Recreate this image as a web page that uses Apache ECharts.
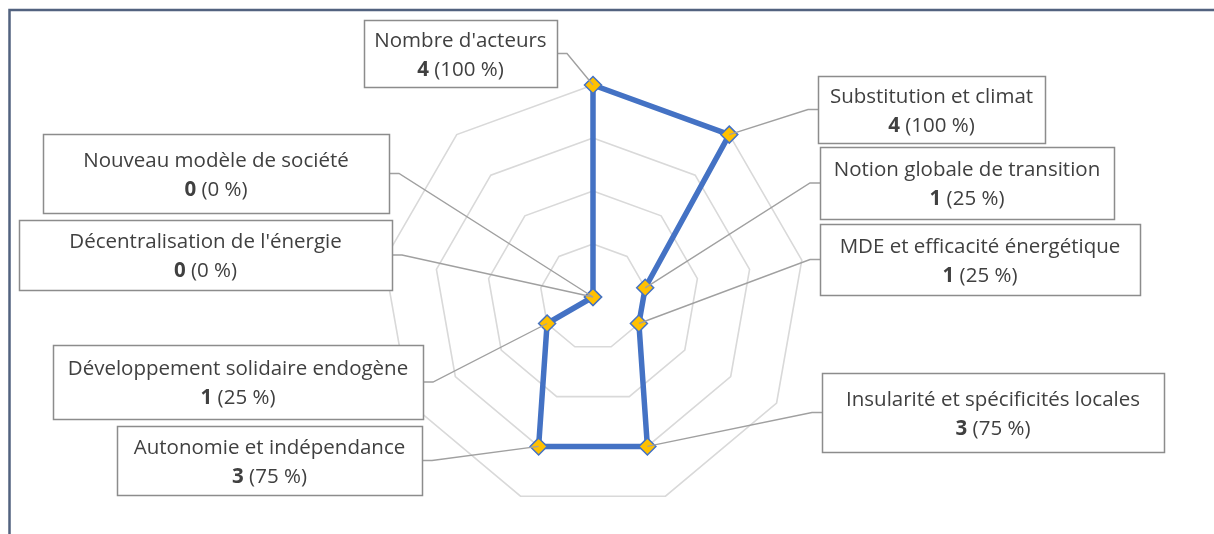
<!DOCTYPE html>
<html>
<head>
<meta charset="utf-8">
<script src="https://cdn.jsdelivr.net/npm/echarts@6/dist/echarts.min.js"></script>
<style>
  html, body { margin: 0; padding: 0; background: #fff; }
  #chart { width: 1214px; height: 534px; }
</style>
</head>
<body>
<div id="chart"></div>
<script>
// catégories dans l'ordre d'Excel (sens horaire depuis le haut)
const categories = [
  "Nombre d'acteurs",
  'Substitution et climat',
  'Notion globale de transition',
  'MDE et efficacité énergétique',
  'Insularité et spécificités locales',
  'Autonomie et indépendance',
  'Développement solidaire endogène',
  "Décentralisation de l'énergie",
  'Nouveau modèle de société'
]
const counts = [4, 4, 1, 1, 3, 3, 1, 0, 0]
const percents = [100, 100, 25, 25, 75, 75, 25, 0, 0]
const maxValue = 4

// position des étiquettes (boîtes) : [x, y, largeur, hauteur, côté du trait]
const boxes = [
  [364, 20, 193, 67, 'right'],
  [818, 76, 227, 67, 'left'],
  [820, 147, 294, 72, 'left'],
  [820, 224, 320, 71, 'left'],
  [822, 373, 342, 79, 'left'],
  [117, 426, 305, 69, 'right'],
  [53, 345, 370, 74, 'right'],
  [19, 220, 373, 70, 'right'],
  [43, 134, 346, 79, 'right']
]

const FONT = '"Open Sans", "Noto Sans", sans-serif'
const chart = echarts.init(document.getElementById('chart'))

// ECharts tourne dans le sens anti-horaire : on réordonne pour garder l'ordre Excel
const order = [0, 8, 7, 6, 5, 4, 3, 2, 1]

const option = {
  animation: false,
  radar: {
    center: [593, 297],
    radius: 212,
    startAngle: 90,
    splitNumber: 4,
    shape: 'polygon',
    indicator: order.map(i => ({ name: categories[i], min: 0, max: maxValue })),
    axisName: { show: false },
    axisLine: { show: false },
    axisTick: { show: false },
    axisLabel: { show: false },
    splitArea: { show: false },
    splitLine: { lineStyle: { color: '#d9d9d9', width: 1.6 } }
  },
  series: [
    {
      type: 'radar',
      symbol: 'diamond',
      symbolSize: 17,
      lineStyle: { color: '#4472c4', width: 5.5 },
      itemStyle: { color: '#ffc000', borderColor: '#4472c4', borderWidth: 1.5 },
      data: [{ value: order.map(i => counts[i]), name: 'Occurrences' }]
    }
  ]
}
chart.setOption(option)

// points réels depuis le système de coordonnées radar
function pointOf(i) {
  const k = order.indexOf(i)
  try {
    const cs = chart.getModel().getComponent('radar').coordinateSystem
    return cs.dataToPoint(counts[i], k)
  } catch (e) {
    const a = Math.PI / 2 + 2 * Math.PI * k / order.length
    const r = 212 * counts[i] / maxValue
    return [593 + r * Math.cos(a), 297 - r * Math.sin(a)]
  }
}

const graphics = [
  // cadre
  { type: 'polyline', z: 1, shape: { points: [[9.5, 534], [9.5, 10], [1214, 10]] },
    style: { stroke: '#52627f', lineWidth: 2.5, fill: null } }
]

categories.forEach((name, i) => {
  const [x, y, w, h, side] = boxes[i]
  const pt = pointOf(i)
  const sy = y + h / 2
  const sx = side === 'right' ? x + w : x
  const stub = side === 'right' ? sx + 10 : sx - 10
  graphics.push({
    type: 'polyline', z: 100,
    shape: { points: [[sx, sy], [stub, sy], pt] },
    style: { stroke: '#a0a0a0', lineWidth: 1.4, fill: null }
  })
  graphics.push({
    type: 'rect', z: 100,
    shape: { x: x + 0.5, y: y + 0.5, width: w, height: h },
    style: { fill: '#fff', stroke: '#8c8c8c', lineWidth: 1.5 }
  })
  graphics.push({
    type: 'text', z: 101,
    x: x + w / 2, y: y + h / 2 + 2,
    style: {
      text: name + '\n{b|' + counts[i] + '} (' + percents[i] + ' %)',
      align: 'center',
      verticalAlign: 'middle',
      fill: '#404040',
      fontSize: 20.5,
      fontFamily: FONT,
      lineHeight: 29,
      rich: {
        b: { fontWeight: 'bold', fontSize: 20.5, fontFamily: FONT, fill: '#404040', lineHeight: 29 }
      }
    }
  })
})

chart.setOption({ graphic: graphics })
</script>
</body>
</html>
